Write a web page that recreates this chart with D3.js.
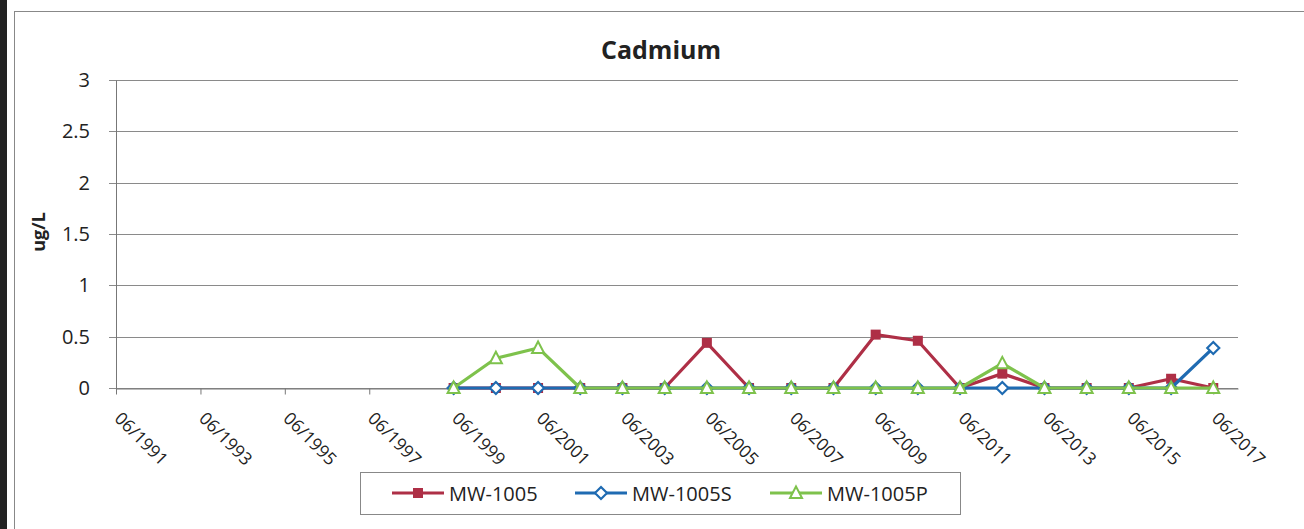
<!DOCTYPE html>
<html><head><meta charset="utf-8">
<script src="https://cdn.jsdelivr.net/npm/d3@7"></script>
<style>
html,body{margin:0;padding:0;background:#fff;}
svg{display:block;}
text{font-family:"Open Sans","Liberation Sans",Arial,sans-serif;}
</style></head>
<body>
<svg id="chart" width="1304" height="529"></svg>
<script>
const years = [1999,2000,2001,2002,2003,2004,2005,2006,2007,2008,2009,2010,2011,2012,2013,2014,2015,2016,2017];
const mw1005  = [0,0,0,0,0,0,0.44,0,0,0,0.52,0.46,0,0.14,0,0,0,0.09,0];
const mw1005S = [0,0,0,0,0,0,0,0,0,0,0,0,0,0,0,0,0,0,0.39];
const mw1005P = [0,0.29,0.39,0,0,0,0,0,0,0,0,0,0,0.24,0,0,0,0,0];
const seriesNames = ["MW-1005","MW-1005S","MW-1005P"];
const tickYears = [1991,1993,1995,1997,1999,2001,2003,2005,2007,2009,2011,2013,2015,2017];
const tickLabels = tickYears.map(y => "06/" + y);
const yTicks = [0,0.5,1,1.5,2,2.5,3];
const yTickLabels = ["0","0.5","1","1.5","2","2.5","3"];

const svg = d3.select("#chart");
const colors = ["#AE2F46","#1F6BB2","#7EC24C"];

// scan edge & frame
svg.append("rect").attr("x",0).attr("y",0).attr("width",7).attr("height",529).attr("fill","#222");
svg.append("rect").attr("x",14.5).attr("y",11.5).attr("width",1300).attr("height",530)
  .attr("fill","none").attr("stroke","#888").attr("stroke-width",1);

const L = 116, R = 1238, T = 80, B = 388;
const x = d3.scaleTime().domain([new Date(1991,5,1), new Date(2018,0,1)]).range([L,R]);
const y = d3.scaleLinear().domain([0,3]).range([B,T]);
const date = yr => new Date(yr,5,1);

// gridlines
svg.append("g").selectAll("line").data(yTicks).join("line")
  .attr("x1",L-7).attr("x2",R).attr("y1",d=>Math.round(y(d))+0.5).attr("y2",d=>Math.round(y(d))+0.5)
  .attr("stroke","#8a8a8a").attr("stroke-width",1);

// y axis
const yAxis = d3.axisLeft(y).tickValues(yTicks).tickFormat((d,i)=>yTickLabels[i]).tickSize(0).tickPadding(26);
const gy = svg.append("g").attr("transform",`translate(${L},0)`).call(yAxis);
gy.select(".domain").attr("stroke","#777");
gy.selectAll("text").attr("font-size",20).attr("fill","#222");

// x axis
const xAxis = d3.axisBottom(x).tickValues(tickYears.map(date)).tickFormat((d,i)=>tickLabels[i]).tickSize(6).tickSizeOuter(0);
const gx = svg.append("g").attr("transform",`translate(0,${B+0.5})`).call(xAxis);
gx.select(".domain").attr("stroke","#777");
gx.selectAll(".tick line").attr("stroke","#777");
gx.selectAll("text").attr("font-size",17.5).attr("fill","#222")
  .attr("text-anchor","start").attr("dy","0").attr("y",0)
  .attr("transform","translate(-3,31) rotate(45)");

// title
svg.append("text").attr("x",661).attr("y",59).attr("text-anchor","middle")
  .attr("font-size",25).attr("font-weight","bold").attr("fill","#222").text("Cadmium");
// y label
svg.append("text").attr("transform","translate(45,232) rotate(-90)").attr("text-anchor","middle")
  .attr("font-size",18).attr("font-weight","bold").attr("fill","#222").text("ug/L");

const data = [mw1005, mw1005S, mw1005P].map(vals => years.map((yr,i)=>({d:date(yr), v:vals[i]})));
const line = d3.line().x(p=>x(p.d)).y(p=>y(p.v));

function marker(g, kind, color){
  if(kind===0) return g.append("rect").attr("x",-5).attr("y",-5).attr("width",10).attr("height",10).attr("fill",color);
  if(kind===1) return g.append("path").attr("d","M0,-6L6,0L0,6L-6,0Z").attr("fill","#fff").attr("stroke",color).attr("stroke-width",2.2);
  return g.append("path").attr("d","M0,-6.5L6,5L-6,5Z").attr("fill","#fff").attr("stroke",color).attr("stroke-width",2);
}

data.forEach((ser,k)=>{
  const g = svg.append("g");
  g.append("path").attr("d",line(ser)).attr("fill","none").attr("stroke",colors[k]).attr("stroke-width",3.2).attr("stroke-linejoin","round");
  g.selectAll("g.m").data(ser).join("g").attr("class","m")
    .attr("transform",p=>`translate(${x(p.d)},${y(p.v)})`)
    .each(function(){ marker(d3.select(this), k, colors[k]); });
});

// legend
const lg = svg.append("g");
lg.append("rect").attr("x",360.5).attr("y",472.5).attr("width",600).attr("height",42)
  .attr("fill","#fff").attr("stroke","#888");
const lx = [392,575,770];
seriesNames.forEach((n,k)=>{
  const g = lg.append("g").attr("transform",`translate(${lx[k]},493)`);
  g.append("line").attr("x1",0).attr("x2",52).attr("stroke",colors[k]).attr("stroke-width",3);
  marker(g.append("g").attr("transform","translate(26,0)"), k, colors[k]);
  g.append("text").attr("x",57).attr("y",7.5).attr("font-size",20).attr("fill","#222").text(n);
});
</script>
</body></html>
